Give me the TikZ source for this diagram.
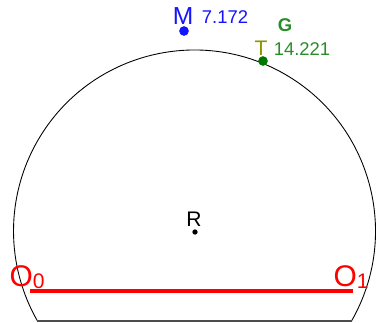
\documentclass[tikz,border=0pt]{standalone}
\usepackage{fontspec}
\setmainfont{Liberation Sans}
\usetikzlibrary{calc}
\definecolor{ptblue}{RGB}{20,20,255}
\definecolor{ptgrn}{RGB}{0,120,0}
\definecolor{lblgrn}{RGB}{40,140,40}
\definecolor{lblolive}{RGB}{140,150,0}
\definecolor{segred}{RGB}{255,0,0}

\tikzset{
  pt/.style={circle, inner sep=0pt, minimum size=#1},
  lbl/.style={inner sep=0pt, font=\fontsize{#1}{#1}\selectfont}
}

\begin{document}
\begin{tikzpicture}[x=0.02cm, y=0.02cm]
        \useasboundingbox (0,0) rectangle (376,322);
        % circle cut by the bottom chord
        \coordinate (C) at (194.5,91);
        \draw[black, line width=0.5pt]
          ($(C)+(-29.8:181)$) coordinate (B1)
          arc[start angle=-29.8, end angle=209.8, radius=181] coordinate (B0);
        \draw[black!70, line width=0.9pt] (B0) -- (B1);
        % centre R
        \node[pt=3pt, fill=black] (R) at (195,90) {};
        \node[lbl=12] (Rlbl) at (194,103) {R};
        % point M
        \node[pt=5.5pt, fill=ptblue] (M) at (184,291) {};
        \node[lbl=14, text=ptblue] (Mlbl) at (183,306) {M};
        \node[lbl=10.5, text=ptblue] (Mval) at (225,305) {7.172};
        % point T on the arc
        \node[lbl=10.5, text=lblgrn] (G) at (285,297) {\bfseries G};
        \node[pt=5.5pt, fill=ptgrn] (T) at (263,261) {};
        \node[lbl=12, text=lblolive] (Tlbl) at (261,274) {T};
        \node[lbl=10.5, text=lblgrn] (Tval) at (302,273) {14.221};
        % segment O0 O1
        \coordinate (O0) at (30,31);
        \coordinate (O1) at (353,31);
        \draw[segred, line width=1.9pt] (O0) -- (O1);
        \node[lbl=17, text=segred] (O0lbl) at (27,45)
          {O\raisebox{-1pt}{\fontsize{12}{12}\selectfont 0}};
        \node[lbl=17, text=segred] (O1lbl) at (351,45)
          {O\raisebox{-1pt}{\fontsize{12}{12}\selectfont 1}};
\end{tikzpicture}
\end{document}
